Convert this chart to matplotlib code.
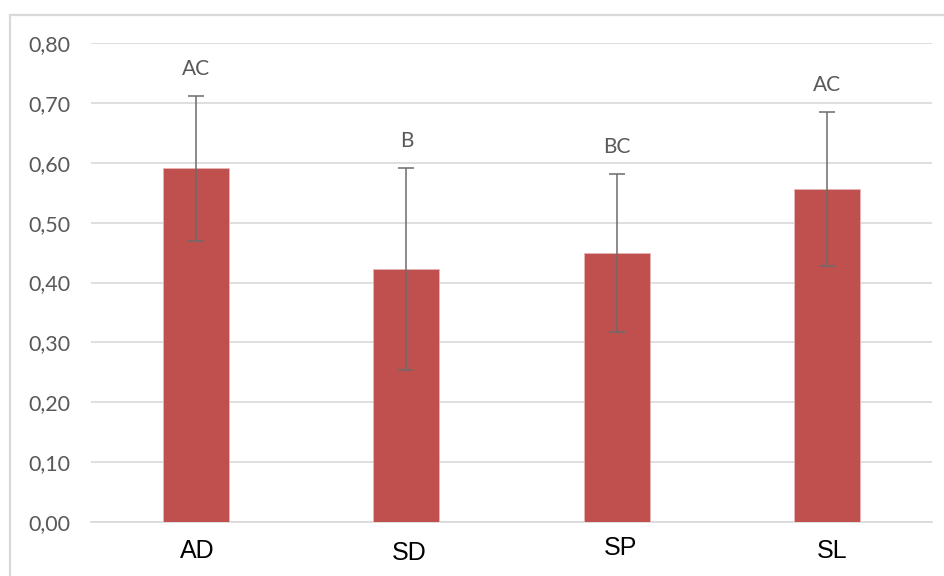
import matplotlib
matplotlib.use("Agg")
import matplotlib.pyplot as plt
import matplotlib.transforms as mtransforms
from matplotlib.patches import Rectangle

# Data
categories = ["AD", "SD", "SP", "SL"]
means = [0.591, 0.4225, 0.449, 0.556]
errors = [0.121, 0.169, 0.132, 0.129]
letters = ["AC", "B", "BC", "AC"]
yticks = [0.0, 0.1, 0.2, 0.3, 0.4, 0.5, 0.6, 0.7, 0.8]

bar_color = "#C0504D"
grid_color = "#D9D9D9"
text_gray = "#595959"

fig = plt.figure(figsize=(9.45, 5.76), dpi=100)
fig.patch.set_facecolor("white")
W, H = 945, 576
ax = fig.add_axes([91 / W, 1 - 522 / H, (932 - 91) / W, (522 - 43) / H])

x = list(range(len(categories)))
ax.bar(x, means, width=0.314, color=bar_color, zorder=3,
       edgecolor="#E8B5B4", linewidth=0.6)
ax.errorbar(x, means, yerr=errors, fmt="none", ecolor="#6B6B6B",
            elinewidth=1.1, capsize=6, capthick=1.1, zorder=4)

# Letter groups above the error bars
for xi, m, e, lab in zip(x, means, errors, letters):
    ax.annotate(lab, (xi, m + e), xytext=(0, 19.5), textcoords="offset points",
                ha="center", va="center", fontsize=15, color=text_gray,
                family=["Lato", "DejaVu Sans"])

ax.set_xlim(-0.5, len(categories) - 0.5)
ax.set_ylim(0, 0.8)
ax.set_yticks(yticks)
ax.set_yticklabels([f"{v:.2f}".replace(".", ",") for v in yticks],
                   fontsize=15.5, color=text_gray, family=["Lato", "DejaVu Sans"])
ax.set_xticks(x)
ax.set_xticklabels(categories, fontsize=18, color="black",
                   family=["Liberation Sans", "DejaVu Sans"])
ax.tick_params(axis="y", length=0, pad=15)
ax.tick_params(axis="x", length=0, pad=12)

# small per-label nudges of the category names
nudges = [(1, 0), (3, -2), (4, 3), (5, 0)]
for lbl, (dx, dy) in zip(ax.get_xticklabels(), nudges):
    lbl.set_transform(lbl.get_transform() +
                      mtransforms.ScaledTranslation(dx / 100, dy / 100, fig.dpi_scale_trans))

ax.grid(axis="y", color=grid_color, linewidth=1.2, zorder=0)
ax.set_axisbelow(True)
for side in ["top", "right", "left"]:
    ax.spines[side].set_visible(False)
ax.spines["bottom"].set_color(grid_color)
ax.spines["bottom"].set_linewidth(1.2)

# chart-area frame
fig.patches.append(Rectangle((10 / W, -0.1), 1.2, 1 - 15 / H + 0.1,
                             transform=fig.transFigure, fill=False,
                             edgecolor="#D9D9D9", linewidth=1.6))

fig.savefig("out.png", dpi=100, facecolor="white")
